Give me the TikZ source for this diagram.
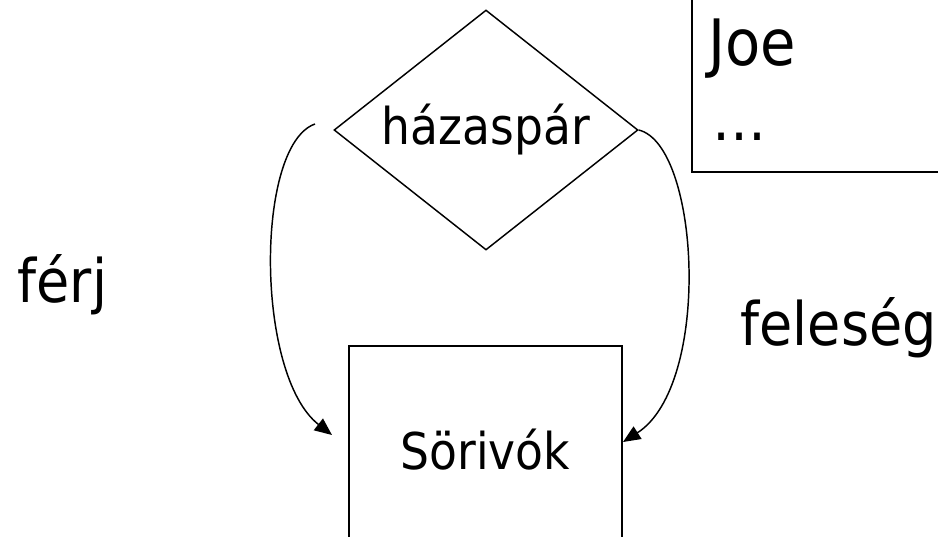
\documentclass[tikz,border=0pt]{standalone}
\usepackage{fontspec}
\setmainfont{DejaVu Sans Condensed}
\usetikzlibrary{shapes.geometric,arrows.meta}
\begin{document}
\begin{tikzpicture}[x=0.75pt,y=-0.75pt,
  line width=1.1pt,
  bigtxt/.style={font=\fontsize{45}{50}\selectfont, inner sep=0pt},
  joetxt/.style={font=\fontsize{48}{52}\selectfont, inner sep=0pt},
  midtxt/.style={font=\fontsize{38}{42}\selectfont, inner sep=0pt},
  arr/.style={line width=1.1pt,-{Triangle[length=13pt,width=11pt]}},
  relbox/.style={shape=diamond, draw, midtxt, aspect=1.267, minimum width=228pt, minimum height=180pt},
  entbox/.style={draw, midtxt, line width=1.5pt, minimum width=204.75pt, minimum height=156pt}]
\useasboundingbox (0,0) rectangle (938,536);
\clip (0,0) rectangle (938,536);
% relationship
\node[relbox] (d) at (486,130) {házaspár};
% entity
\node[entbox] (s) at (485.5,450) {Sörivók};
% instance box
\node[draw, line width=1.5pt, minimum width=201pt, minimum height=144pt, inner sep=0pt] (inst) at (826,76) {};
\node[joetxt, anchor=base west] (joe) at (708,65) {Joe};
\node[bigtxt, anchor=base west] (dots) at (712,140) {…};
% labels
\node[bigtxt, anchor=base west] (ferj) at (17,302) {férj};
\node[bigtxt, anchor=base west] (feleseg) at (740,345) {feleség};
% connectors
\coordinate (lstart) at (315,124);
\coordinate (lend) at (332,435);
\coordinate (rend) at ([yshift=6pt]s.east);
\draw[arr] (lstart) .. controls (255,145) and (255,375) .. (lend);
\draw[arr] (d.east) .. controls (700,145) and (712,385) .. (rend);
\end{tikzpicture}
\end{document}
